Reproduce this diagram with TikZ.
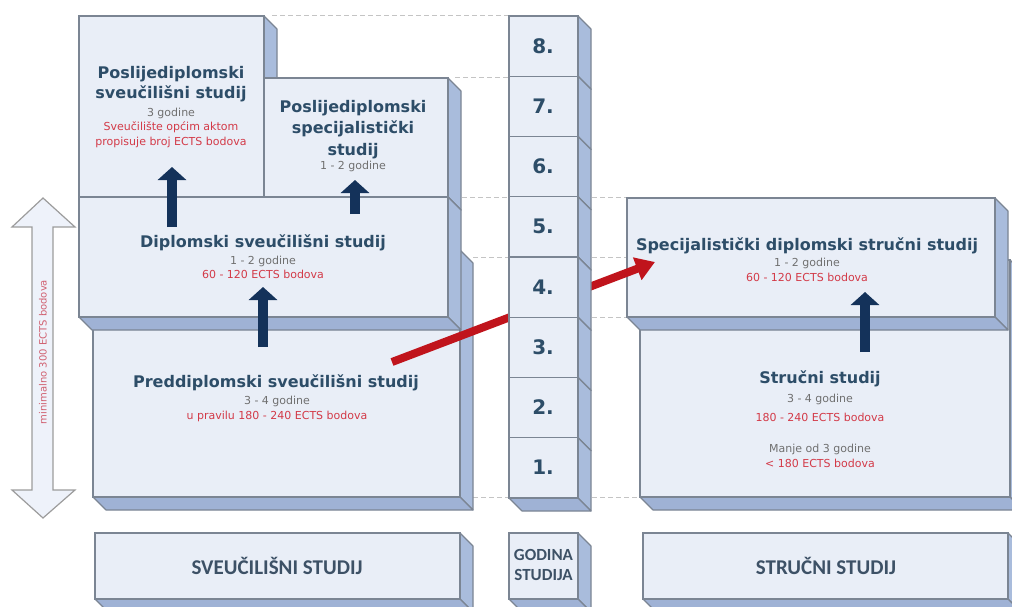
\documentclass[tikz,border=0pt]{standalone}
\usepackage{fontspec}
\setmainfont{DejaVu Sans}
\newfontfamily\lblfont{Carlito}
\usetikzlibrary{arrows.meta}
\definecolor{facecol}{HTML}{E9EEF7}
\definecolor{sidecol}{HTML}{A9BCDC}
\definecolor{botcol}{HTML}{9FB2D5}
\definecolor{edgecol}{HTML}{7B8593}
\definecolor{titlecol}{HTML}{2D4D68}
\definecolor{greytxt}{HTML}{707070}
\definecolor{redtxt}{HTML}{D33A48}
\definecolor{navy}{HTML}{14325A}
\definecolor{redarrow}{HTML}{C0141C}
\definecolor{dashcol}{HTML}{C4C4C4}
\definecolor{lblcol}{HTML}{3D5166}
\definecolor{arrowfill}{HTML}{EEF2FA}
\definecolor{arrowedge}{HTML}{9C9C9C}
\definecolor{vredtxt}{HTML}{D06070}
\tikzset{
 sideface/.style={fill=sidecol, draw=edgecol, line width=1.1pt, line join=round},
 botface/.style={fill=botcol, draw=edgecol, line width=1.1pt, line join=round},
 frontface/.style={rectangle, fill=facecol, draw=edgecol, line width=1.3pt, inner sep=0pt, outer sep=0pt},
 title/.style={font=\bfseries\fontsize{16}{19}\selectfont, text=titlecol, anchor=base, inner sep=0pt},
 small/.style={font=\fontsize{11}{13}\selectfont, text=greytxt, anchor=base, inner sep=0pt},
 smallred/.style={small, text=redtxt},
 num/.style={font=\bfseries\fontsize{20}{24}\selectfont, text=titlecol, anchor=base, inner sep=0pt},
 lbl/.style={font=\lblfont\bfseries\fontsize{21}{24}\selectfont, text=lblcol, anchor=base, inner sep=0pt},
 lblsmall/.style={font=\lblfont\bfseries\fontsize{17}{20}\selectfont, text=lblcol, anchor=base, inner sep=0pt},
 uparrow/.style={draw=navy, line width=10pt, -{Triangle[length=13pt,width=28pt]}},
 dashline/.style={draw=dashcol, line width=1pt, dash pattern=on 5pt off 3pt},
 redarr/.style={draw=redarrow, line width=8pt, -{Triangle[length=19pt,width=23pt]}},
}
\newcommand{\slab}[5]{%
  \filldraw[sideface] (#4,#3) -- ({#4+13},{#3+13}) -- ({#4+13},{#5+13}) -- (#4,#5) -- cycle;
  \filldraw[botface] (#2,#5) -- (#4,#5) -- ({#4+13},{#5+13}) -- ({#2+13},{#5+13}) -- cycle;
  \node[frontface, anchor=north west, minimum width={(#4-#2)*1pt}, minimum height={(#5-#3)*1pt}] (#1) at (#2,#3) {};
}
\begin{document}
\begin{tikzpicture}[x=1pt,y=-1pt]
\useasboundingbox (0,0) rectangle (1012,607);
% dashed guide lines
\draw[dashline] (272,16) -- (509,16);
\draw[dashline] (455,78) -- (509,78);
\draw[dashline] (462,197) -- (509,197);
\draw[dashline] (592,197) -- (627,197);
\draw[dashline] (473,257) -- (509,257);
\draw[dashline] (592,257) -- (640,257);
\draw[dashline] (592,317) -- (627,317);
\draw[dashline] (473,497) -- (509,497);
\draw[dashline] (592,497) -- (640,497);
% university blocks
\slab{pre}{93}{250}{460}{497}
\slab{pss}{79}{16}{264}{197}
\slab{psp}{264}{78}{448}{197}
\slab{dip}{79}{197}{448}{317}
% professional blocks
\slab{str}{640}{260}{1010}{497}
\slab{spe}{627}{198}{995}{317}
% red arrow (behind the column)
\coordinate (ra0) at (392,362);
\coordinate (ra1) at (655,262);
\draw[redarr] (ra0) -- (ra1);
% column of years
\foreach \i in {0,...,7}{
  \pgfmathsetmacro\ya{16+60.25*\i}
  \pgfmathsetmacro\yb{16+60.25*(\i+1)}
  \slab{c\i}{509}{\ya}{578}{\yb}
}
\node[num] (n8) at (543,53.1) {8.};
\node[num] (n7) at (543,113.4) {7.};
\node[num] (n6) at (543,173.6) {6.};
\node[num] (n5) at (543,233.9) {5.};
\node[num] (n4) at (543,294.1) {4.};
\node[num] (n3) at (543,354.4) {3.};
\node[num] (n2) at (543,414.6) {2.};
\node[num] (n1) at (543,474.9) {1.};
% navy up arrows
\coordinate (a1s) at (172,227); \coordinate (a1e) at (172,167);
\coordinate (a2s) at (355,214); \coordinate (a2e) at (355,180);
\coordinate (a3s) at (263,347); \coordinate (a3e) at (263,287);
\coordinate (a4s) at (865,352); \coordinate (a4e) at (865,292);
\draw[uparrow] (a1s) -- (a1e);
\draw[uparrow] (a2s) -- (a2e);
\draw[uparrow] (a3s) -- (a3e);
\draw[uparrow] (a4s) -- (a4e);
% texts
\node[title] (pss1) at (171,78.5) {Poslijediplomski};
\node[title] (pss2) at (171,98.5) {sveučilišni studij};
\node[small] (pss3) at (171,117) {3 godine};
\node[smallred] (pss4) at (171,131) {Sveučilište općim aktom};
\node[smallred] (pss5) at (171,146) {propisuje broj ECTS bodova};
\node[title] (psp1) at (353,112.5) {Poslijediplomski};
\node[title] (psp2) at (353,133.5) {specijalistički};
\node[title] (psp3) at (353,155.5) {studij};
\node[small] (psp4) at (353,170) {1 - 2 godine};
\node[title] (dip1) at (263,247.6) {Diplomski sveučilišni studij};
\node[small] (dip2) at (263,264) {1 - 2 godine};
\node[smallred] (dip3) at (263,278) {60 - 120 ECTS bodova};
\node[title] (pre1) at (276,387.6) {Preddiplomski sveučilišni studij};
\node[small] (pre2) at (277,404) {3 - 4 godine};
\node[smallred] (pre3) at (277,419) {u pravilu 180 - 240 ECTS bodova};
\node[title] (spe1) at (807,250.6) {Specijalistički diplomski stručni studij};
\node[small] (spe2) at (807,266) {1 - 2 godine};
\node[smallred] (spe3) at (807,281) {60 - 120 ECTS bodova};
\node[title] (str1) at (820,383.6) {Stručni studij};
\node[small] (str2) at (820,402) {3 - 4 godine};
\node[smallred] (str3) at (820,421) {180 - 240 ECTS bodova};
\node[small] (str4) at (820,452) {Manje od 3 godine};
\node[smallred] (str5) at (820,467) {< 180 ECTS bodova};
% left double arrow
\filldraw[fill=arrowfill, draw=arrowedge, line width=1.2pt, line join=miter]
  (43,198) -- (75,227) -- (53,227) -- (53,490) -- (75,490) -- (43,518)
  -- (12,490) -- (32,490) -- (32,227) -- (12,227) -- cycle;
\node[font=\fontsize{10}{12}\selectfont, text=vredtxt, rotate=90, inner sep=0pt] (ects) at (43,352) {minimalno 300 ECTS bodova};
% bottom labels
\slab{lb1}{95}{533}{460}{599}
\slab{lb2}{509}{533}{578}{599}
\slab{lb3}{643}{533}{1008}{599}
\node[lbl] (lt1) at (277,574) {SVEUČILIŠNI STUDIJ};
\node[lblsmall] (lt2a) at (543.5,560.5) {GODINA};
\node[lblsmall] (lt2b) at (543.5,580.5) {STUDIJA};
\node[lbl] (lt3) at (826,574) {STRUČNI STUDIJ};
\end{tikzpicture}
\end{document}
